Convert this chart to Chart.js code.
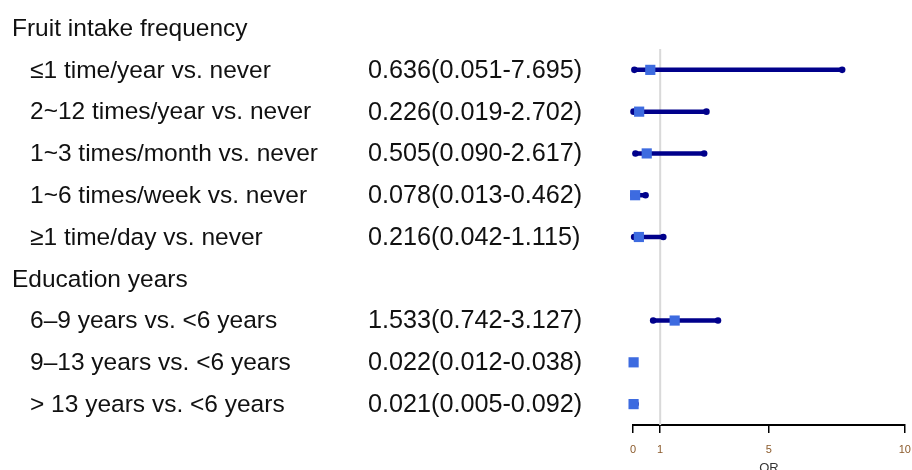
<!DOCTYPE html>
<html>
<head>
<meta charset="utf-8">
<script src="https://cdn.jsdelivr.net/npm/chart.js@4/dist/chart.umd.min.js"></script>
<style>
  html, body { margin: 0; padding: 0; background: #fff; }
  #wrap { width: 912px; height: 470px; }
</style>
</head>
<body>
<div id="wrap"><canvas id="forest"></canvas></div>
<script>
  // groups and their rows
  const groups = ["Fruit intake frequency", "Education years"];
  const rowGroup = [0, 0, 0, 0, 0, 1, 1, 1];
  const rowLabels = [
    "≤1 time/year vs. never",
    "2~12 times/year vs. never",
    "1~3 times/month vs. never",
    "1~6 times/week vs. never",
    "≥1 time/day vs. never",
    "6–9 years vs. <6 years",
    "9–13 years vs. <6 years",
    "> 13 years vs. <6 years"
  ];
  const orValues = [0.636, 0.226, 0.505, 0.078, 0.216, 1.533, 0.022, 0.021];
  const lowerCI  = [0.051, 0.019, 0.090, 0.013, 0.042, 0.742, 0.012, 0.005];
  const upperCI  = [7.695, 2.702, 2.617, 0.462, 1.115, 3.127, 0.038, 0.092];
  const xTicks = [0, 1, 5, 10];

  const FONT = "'Liberation Sans', Arial, sans-serif";

  // work out which line each header / row sits on
  let lines = [];
  let rowPos = [];
  let pos = 0;
  groups.forEach((g, gi) => {
    lines.push({ text: g, header: true, y: pos });
    pos++;
    rowLabels.forEach((lab, i) => {
      if (rowGroup[i] !== gi) return;
      lines.push({ text: lab, header: false, y: pos, idx: i });
      rowPos[i] = pos;
      pos++;
    });
  });
  const nLines = pos;

  let datasets = [];

  // reference line at OR = 1
  datasets.push({
    type: "line",
    data: [{ x: 1, y: 0.5 }, { x: 1, y: nLines - 0.5 }],
    borderColor: "#d9d9d9",
    borderWidth: 2,
    pointRadius: 0,
    clip: false,
    order: 3
  });

  // confidence intervals
  rowLabels.forEach((lab, i) => {
    datasets.push({
      type: "line",
      data: [{ x: lowerCI[i], y: rowPos[i] }, { x: upperCI[i], y: rowPos[i] }],
      borderColor: "#00008b",
      borderWidth: 4.5,
      pointRadius: 3.3,
      pointBackgroundColor: "#00008b",
      pointBorderWidth: 0,
      clip: false,
      order: 2
    });
  });

  // point estimates
  datasets.push({
    type: "scatter",
    data: orValues.map((v, i) => ({ x: v, y: rowPos[i] })),
    pointStyle: "rect",
    pointRadius: 7.2,
    backgroundColor: "#3d6be0",
    pointBorderWidth: 0,
    clip: false,
    order: 1
  });

  const textPlugin = {
    id: "forestText",
    afterDraw(chart) {
      const ctx = chart.ctx;
      const y = chart.scales.y;
      ctx.save();
      ctx.fillStyle = "#111";
      ctx.textBaseline = "middle";
      ctx.textAlign = "left";
      lines.forEach(l => {
        const py = y.getPixelForValue(l.y) + 1;
        ctx.font = "24.5px " + FONT;
        ctx.fillText(l.text, l.header ? 12 : 30, py);
        if (!l.header) {
          const i = l.idx;
          const s = orValues[i].toFixed(3) + "(" + lowerCI[i].toFixed(3) + "-" + upperCI[i].toFixed(3) + ")";
          ctx.font = "25.2px " + FONT;
          ctx.fillText(s, 368, py);
        }
      });
      ctx.restore();
    }
  };

  new Chart(document.getElementById("forest"), {
    type: "scatter",
    data: { datasets },
    options: {
      responsive: true,
      maintainAspectRatio: false,
      animation: false,
      layout: { padding: { left: 633, right: 5, top: 5, bottom: 0 } },
      plugins: { legend: { display: false }, tooltip: { enabled: false } },
      scales: {
        x: {
          type: "linear",
          min: 0,
          max: 10,
          position: "bottom",
          afterBuildTicks: s => { s.ticks = xTicks.map(v => ({ value: v })); },
          afterFit: s => { s.height = 45; s.paddingLeft = 0; s.paddingRight = 0; },
          border: { display: true, color: "#000", width: 2 },
          grid: { drawOnChartArea: false, drawTicks: true, tickLength: 8, color: "#000", lineWidth: 1.5 },
          ticks: { color: "#8b5a2b", font: { size: 11, family: FONT }, padding: 10, maxRotation: 0, autoSkip: false },
          title: { display: true, text: "OR", color: "#333", font: { size: 13, family: FONT }, padding: { top: 0, bottom: -6 } }
        },
        y: {
          type: "linear",
          reverse: true,
          min: -0.5,
          max: nLines - 0.5,
          display: false
        }
      }
    },
    plugins: [textPlugin]
  });
</script>
</body>
</html>
